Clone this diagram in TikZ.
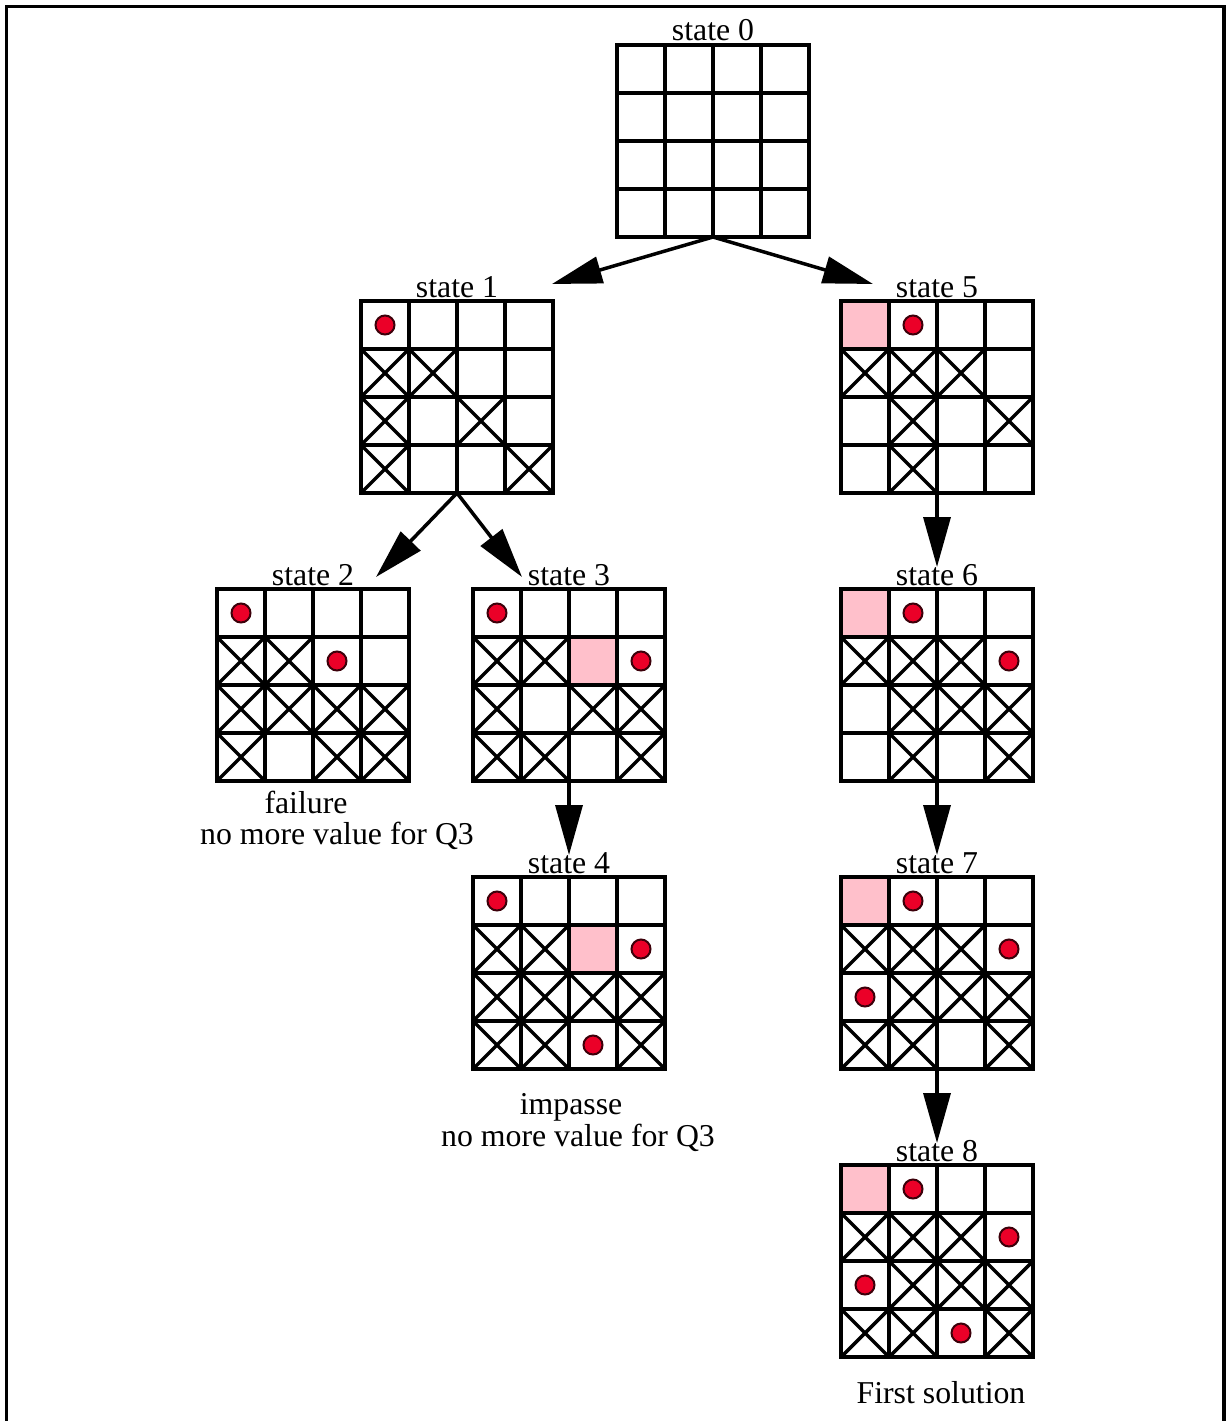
\documentclass[tikz,border=0pt]{standalone}
\usepackage{fontspec}
\setmainfont{Liberation Serif}
\usetikzlibrary{arrows.meta,calc}
\definecolor{qred}{RGB}{235,0,40}
\definecolor{qpink}{RGB}{255,192,203}
\definecolor{qedge}{RGB}{60,0,10}
\tikzset{
  boardnode/.style={rectangle,minimum size=192pt,inner sep=0pt,outer sep=0pt},
  gridline/.style={line width=3.5pt,line cap=rect},
  xline/.style={line width=3.5pt},
  queen/.style={fill=qred,draw=qedge,line width=2pt},
  pinkcell/.style={fill=qpink},
  lbl/.style={anchor=base,inner sep=0pt,font=\fontsize{31.8pt}{38pt}\selectfont},
  conn/.style={line width=3.5pt,-{Triangle[length=50pt,width=27pt]}},
  frame/.style={line width=3.5pt},
}
\newcommand\qboardgrid[1]{%
  \begin{scope}[shift={(#1.north west)}]
    \foreach \i in {48,96,144} {\draw[gridline] (\i,0) -- (\i,192); \draw[gridline] (0,\i) -- (192,\i);}
    \draw[gridline] (0,0) rectangle (192,192);
  \end{scope}}
\newcommand\qboardpink[2]{%
  \begin{scope}[shift={(#1.north west)}]
    \foreach \r/\c in {#2} {\fill[pinkcell] ({(\c-1)*48},{(\r-1)*48}) rectangle ++(48,48);}
  \end{scope}}
\newcommand\qboardx[2]{%
  \begin{scope}[shift={(#1.north west)}]
    \foreach \r/\c in {#2} {\draw[xline] ({(\c-1)*48},{(\r-1)*48}) -- ++(48,48) ({\c*48},{(\r-1)*48}) -- ++(-48,48);}
  \end{scope}}
\newcommand\qboarddots[2]{%
  \begin{scope}[shift={(#1.north west)}]
    \foreach \r/\c in {#2} {\draw[queen] ({(\c-0.5)*48},{(\r-0.5)*48}) circle[radius=9.5pt];}
  \end{scope}}
\begin{document}
\begin{tikzpicture}[x=1pt,y=-1pt]
\useasboundingbox (0,0) rectangle (1226,1421);
\fill[white] (0,0) rectangle (1226,1421);
\draw[frame] (6.5,1440) -- (6.5,6.5) -- (1224,6.5) -- (1224,1440);

% boards (centres)
\node[boardnode] (s0) at (713,141) {};
\node[boardnode] (s1) at (457,397) {};
\node[boardnode] (s5) at (937,397) {};
\node[boardnode] (s2) at (313,685) {};
\node[boardnode] (s3) at (569,685) {};
\node[boardnode] (s6) at (937,685) {};
\node[boardnode] (s4) at (569,973) {};
\node[boardnode] (s7) at (937,973) {};
\node[boardnode] (s8) at (937,1261) {};

% pink cells
\qboardpink{s5}{1/1}
\qboardpink{s3}{2/3}
\qboardpink{s4}{2/3}
\qboardpink{s6}{1/1}
\qboardpink{s7}{1/1}
\qboardpink{s8}{1/1}

% grids
\foreach \b in {s0,s1,s2,s3,s4,s5,s6,s7,s8} {\qboardgrid{\b}}

% crosses
\qboardx{s1}{2/1,2/2,3/1,3/3,4/1,4/4}
\qboardx{s5}{2/1,2/2,2/3,3/2,3/4,4/2}
\qboardx{s2}{2/1,2/2,3/1,3/2,3/3,3/4,4/1,4/3,4/4}
\qboardx{s3}{2/1,2/2,3/1,3/3,3/4,4/1,4/2,4/4}
\qboardx{s4}{2/1,2/2,3/1,3/2,3/3,3/4,4/1,4/2,4/4}
\qboardx{s6}{2/1,2/2,2/3,3/2,3/3,3/4,4/2,4/4}
\qboardx{s7}{2/1,2/2,2/3,3/2,3/3,3/4,4/1,4/2,4/4}
\qboardx{s8}{2/1,2/2,2/3,3/2,3/3,3/4,4/1,4/2,4/4}

% queens
\qboarddots{s1}{1/1}
\qboarddots{s5}{1/2}
\qboarddots{s2}{1/1,2/3}
\qboarddots{s3}{1/1,2/4}
\qboarddots{s4}{1/1,2/4,4/3}
\qboarddots{s6}{1/2,2/4}
\qboarddots{s7}{1/2,2/4,3/1}
\qboarddots{s8}{1/2,2/4,3/1,4/3}

% labels
\node[lbl] (t0) at (713,41) {state 0};
\node[lbl] (t1) at (457,297) {state 1};
\node[lbl] (t5) at (937,297) {state 5};
\node[lbl] (t2) at (313,585) {state 2};
\node[lbl] (t3) at (569,585) {state 3};
\node[lbl] (t6) at (937,585) {state 6};
\node[lbl] (t4) at (569,873) {state 4};
\node[lbl] (t7) at (937,873) {state 7};
\node[lbl] (t8) at (937,1161) {state 8};

\node[lbl] (c2a) at (306,813) {failure};
\node[lbl] (c2b) at (337,844) {no more value for Q3};
\node[lbl] (c4a) at (571,1114) {impasse};
\node[lbl] (c4b) at (578,1146) {no more value for Q3};
\node[lbl] (c8) at (941,1403) {First solution};

% arrow tips
\coordinate (p1) at (552,284);
\coordinate (p5) at (873,284);
\coordinate (p2) at (376,577);
\coordinate (p3) at (522,577);
\coordinate (p6) at (937,567);
\coordinate (p4) at (569,855);
\coordinate (p7) at (937,855);
\coordinate (p8) at (937,1143);

\draw[conn] (s0.south) -- (p1);
\draw[conn] (s0.south) -- (p5);
\draw[conn] (s1.south) -- (p2);
\draw[conn] (s1.south) -- (p3);
\draw[conn] (s5.south) -- (p6);
\draw[conn] (s3.south) -- (p4);
\draw[conn] (s6.south) -- (p7);
\draw[conn] (s7.south) -- (p8);
\end{tikzpicture}
\end{document}
